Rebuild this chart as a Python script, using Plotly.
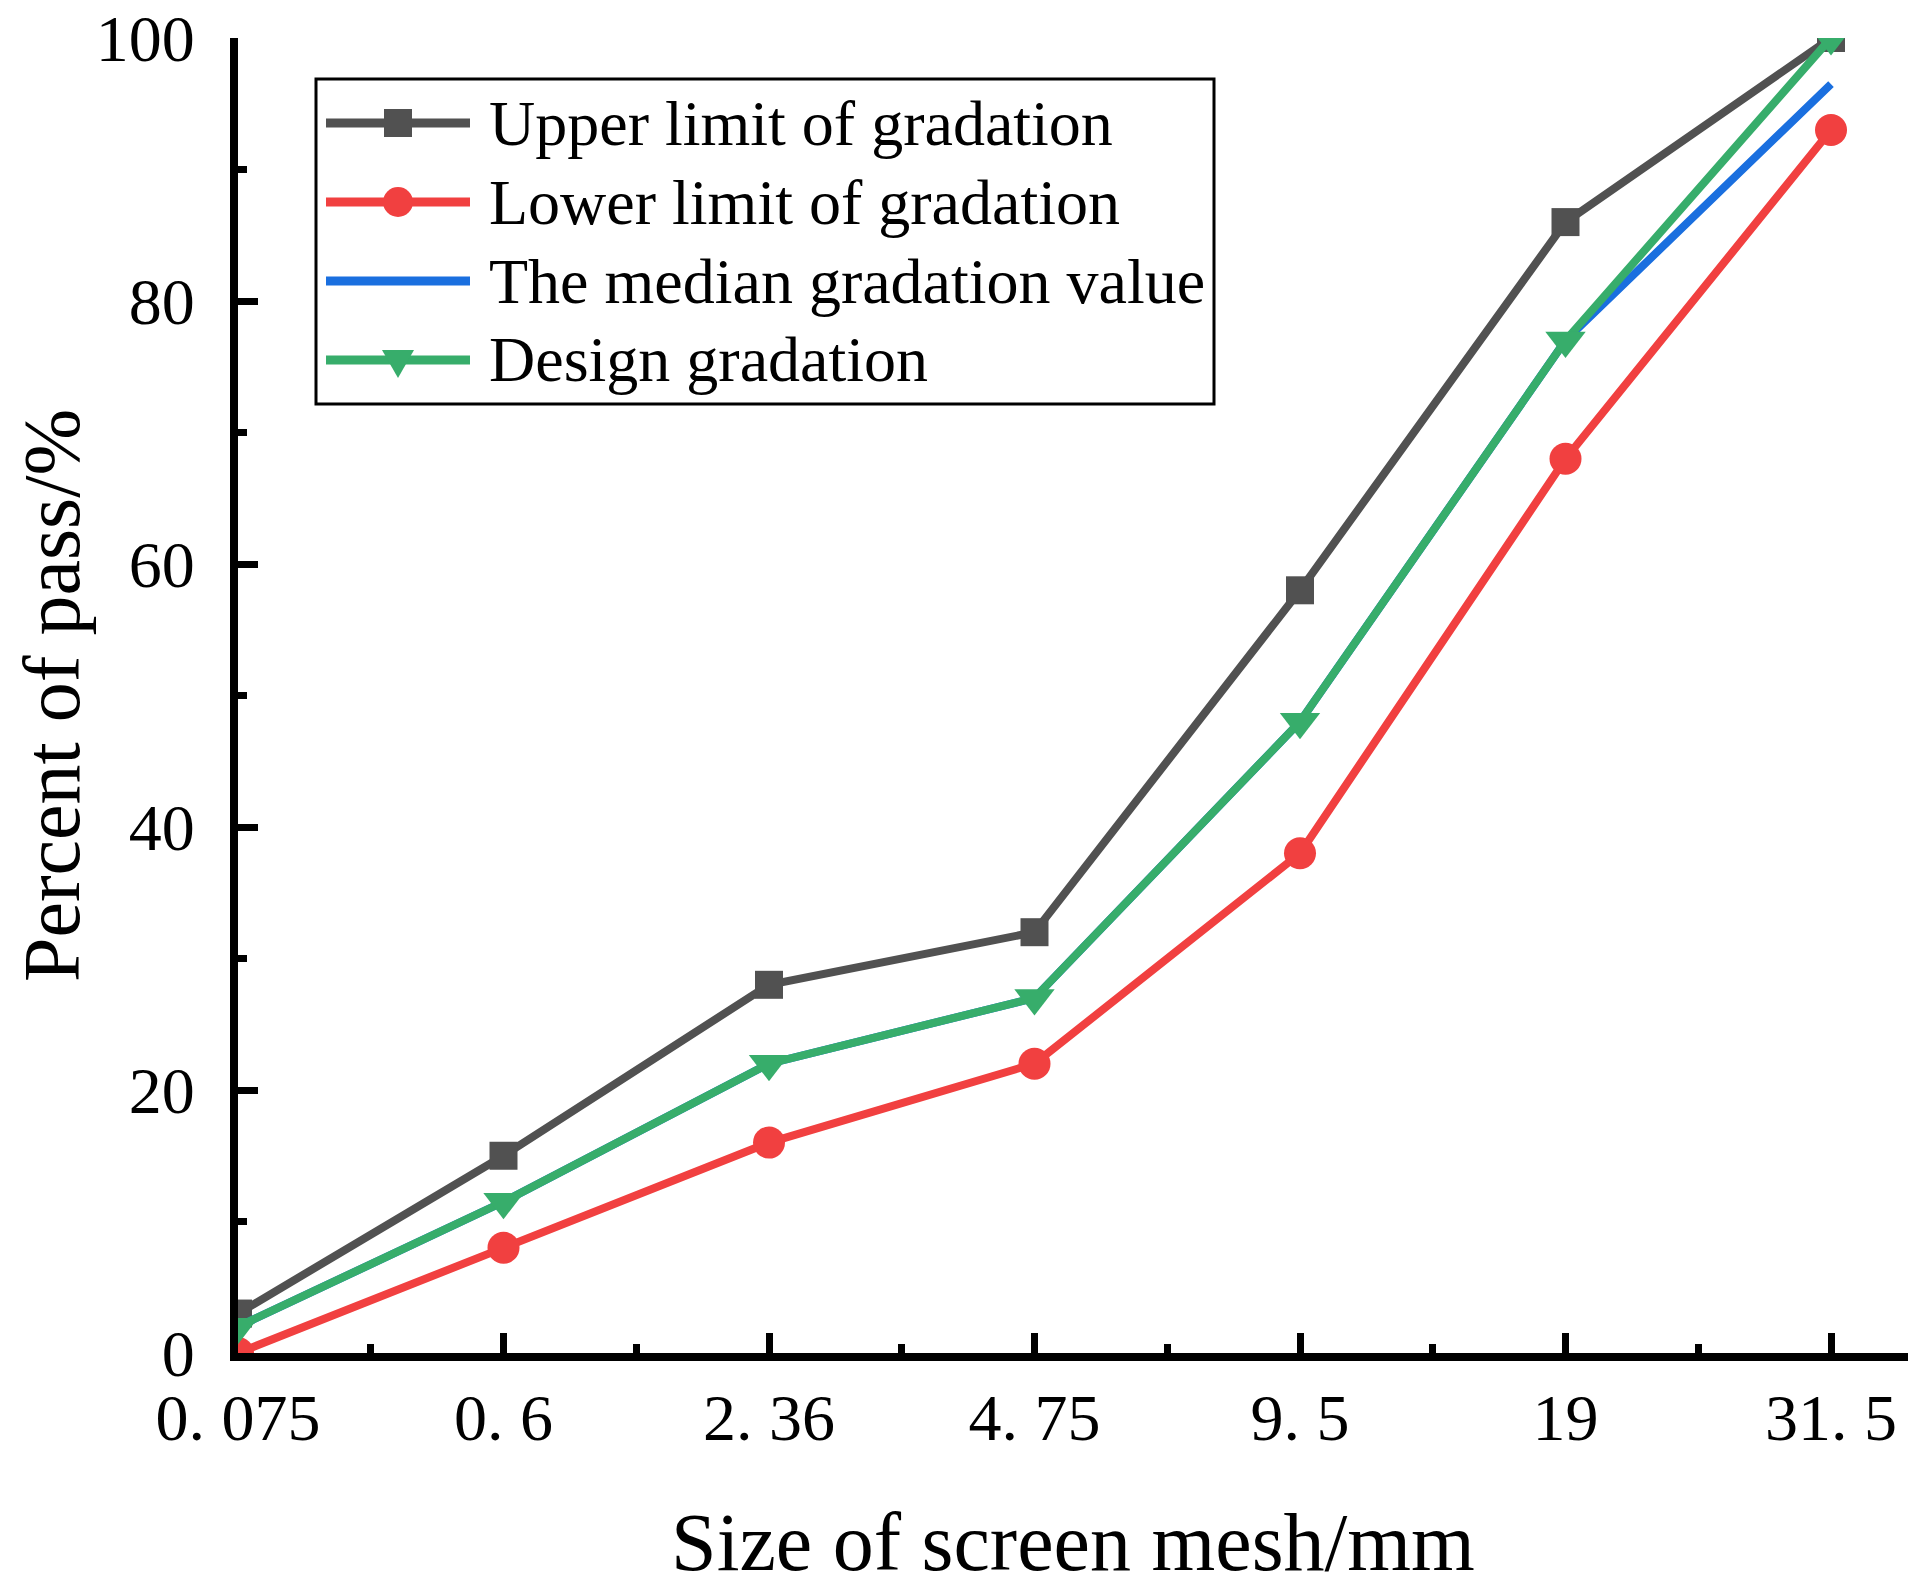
import plotly.graph_objects as go

# ---------------- data ----------------
sieve_sizes = ["0. 075", "0. 6", "2. 36", "4. 75", "9. 5", "19", "31. 5"]
upper_limit = [3, 15, 28, 32, 58, 86, 100]
lower_limit = [0, 8, 16, 22, 38, 68, 93]
median_value = [2, 11.5, 22, 27, 48, 77, 96.5]
design_value = [2, 11.5, 22, 27, 48, 77, 100]

series_names = ["Upper limit of gradation", "Lower limit of gradation",
                "The median gradation value", "Design gradation"]
y_tick_values = [0, 20, 40, 60, 80, 100]

x_title = "Size of screen mesh/mm"
y_title = "Percent of pass/%"

# ---------------- style ----------------
GRAY = "#515151"
RED = "#F14040"
BLUE = "#1A6FDF"
GREEN = "#37AD6B"
FONT = "Liberation Serif, serif"

OFF = 8                      # default page body margin
W, H = 1910, 1580
L, R, T, B = 230, 10, 30, 235
PW, PH = W - L - R, H - T - B

def px_x(px):
    return (px - OFF - L) / PW

def px_y(py):
    return (H - B - (py - OFF)) / PH

idx = list(range(len(sieve_sizes)))

fig = go.Figure()
fig.add_trace(go.Scatter(x=idx, y=upper_limit, name=series_names[0], mode="lines+markers",
                         line=dict(color=GRAY, width=8),
                         marker=dict(symbol="square", size=28, color=GRAY),
                         showlegend=False))
fig.add_trace(go.Scatter(x=idx, y=lower_limit, name=series_names[1], mode="lines+markers",
                         line=dict(color=RED, width=8),
                         marker=dict(symbol="circle", size=32, color=RED),
                         showlegend=False))
fig.add_trace(go.Scatter(x=idx, y=median_value, name=series_names[2], mode="lines",
                         line=dict(color=BLUE, width=8),
                         showlegend=False))
fig.add_trace(go.Scatter(x=idx, y=design_value, name=series_names[3], mode="lines+markers",
                         line=dict(color=GREEN, width=8),
                         marker=dict(symbol="triangle-down", size=35, color=GREEN),
                         showlegend=False))

# ---------------- manual legend (layout decorations) ----------------
shapes = []
annotations = []
shapes.append(dict(type="rect", xref="paper", yref="paper",
                   x0=px_x(316), x1=px_x(1214), y0=px_y(404), y1=px_y(79),
                   line=dict(color="black", width=3), fillcolor="white", layer="above"))
rows_px = [123, 202, 281, 360]
colors = [GRAY, RED, BLUE, GREEN]
symbols = ["square", "circle", None, "triangle-down"]
for name, col, sym, ry in zip(series_names, colors, symbols, rows_px):
    yy = px_y(ry)
    shapes.append(dict(type="line", xref="paper", yref="paper",
                       x0=px_x(326), x1=px_x(470), y0=yy, y1=yy,
                       line=dict(color=col, width=9), layer="above"))
    if sym == "square":
        shapes.append(dict(type="rect", xref="paper", yref="paper",
                           xsizemode="pixel", ysizemode="pixel",
                           xanchor=px_x(398), yanchor=yy,
                           x0=-14, x1=14, y0=-14, y1=14,
                           line=dict(width=0), fillcolor=col, layer="above"))
    elif sym == "circle":
        shapes.append(dict(type="circle", xref="paper", yref="paper",
                           xsizemode="pixel", ysizemode="pixel",
                           xanchor=px_x(398), yanchor=yy,
                           x0=-15, x1=15, y0=-15, y1=15,
                           line=dict(width=0), fillcolor=col, layer="above"))
    elif sym == "triangle-down":
        shapes.append(dict(type="path", xref="paper", yref="paper",
                           xsizemode="pixel", ysizemode="pixel",
                           xanchor=px_x(398), yanchor=yy,
                           path="M -16 10 L 16 10 L 0 -18 Z",
                           line=dict(width=0), fillcolor=col, layer="above"))
    annotations.append(dict(text=name, xref="paper", yref="paper",
                            x=px_x(487), y=yy, xanchor="left", yanchor="middle",
                            showarrow=False, font=dict(family=FONT, size=64, color="black")))

fig.update_layout(
    width=W, height=H,
    margin=dict(l=L, r=R, t=T, b=B, autoexpand=False),
    paper_bgcolor="white", plot_bgcolor="white",
    font=dict(family=FONT, color="black"),
    shapes=shapes, annotations=annotations,
    showlegend=False,
)

fig.update_xaxes(
    range=[0, 6.29], tickmode="array", tickvals=idx, ticktext=sieve_sizes,
    showgrid=False, zeroline=False,
    showline=True, linecolor="black", linewidth=8,
    ticks="inside", ticklen=20, tickwidth=7, tickcolor="black",
    minor=dict(tickmode="linear", tick0=0, dtick=0.5, ticks="inside", ticklen=9,
               tickwidth=7, tickcolor="black", showgrid=False),
    tickfont=dict(family=FONT, size=66, color="black"),
    ticklabeloverflow="allow",
    title=dict(text=x_title, font=dict(family=FONT, size=82, color="black"), standoff=65),
    automargin=False,
)
fig.update_yaxes(
    range=[0, 100], tickmode="array", tickvals=y_tick_values,
    showgrid=False, zeroline=False,
    showline=True, linecolor="black", linewidth=8,
    ticks="inside", ticklen=20, tickwidth=7, tickcolor="black",
    minor=dict(tickmode="linear", tick0=0, dtick=10, ticks="inside", ticklen=9,
               tickwidth=7, tickcolor="black", showgrid=False),
    tickfont=dict(family=FONT, size=66, color="black"),
    ticklabelstandoff=22,
    ticklabeloverflow="allow",
    title=dict(text=y_title, font=dict(family=FONT, size=80, color="black"), standoff=35),
    automargin=False,
)

fig.write_html("out.html")
